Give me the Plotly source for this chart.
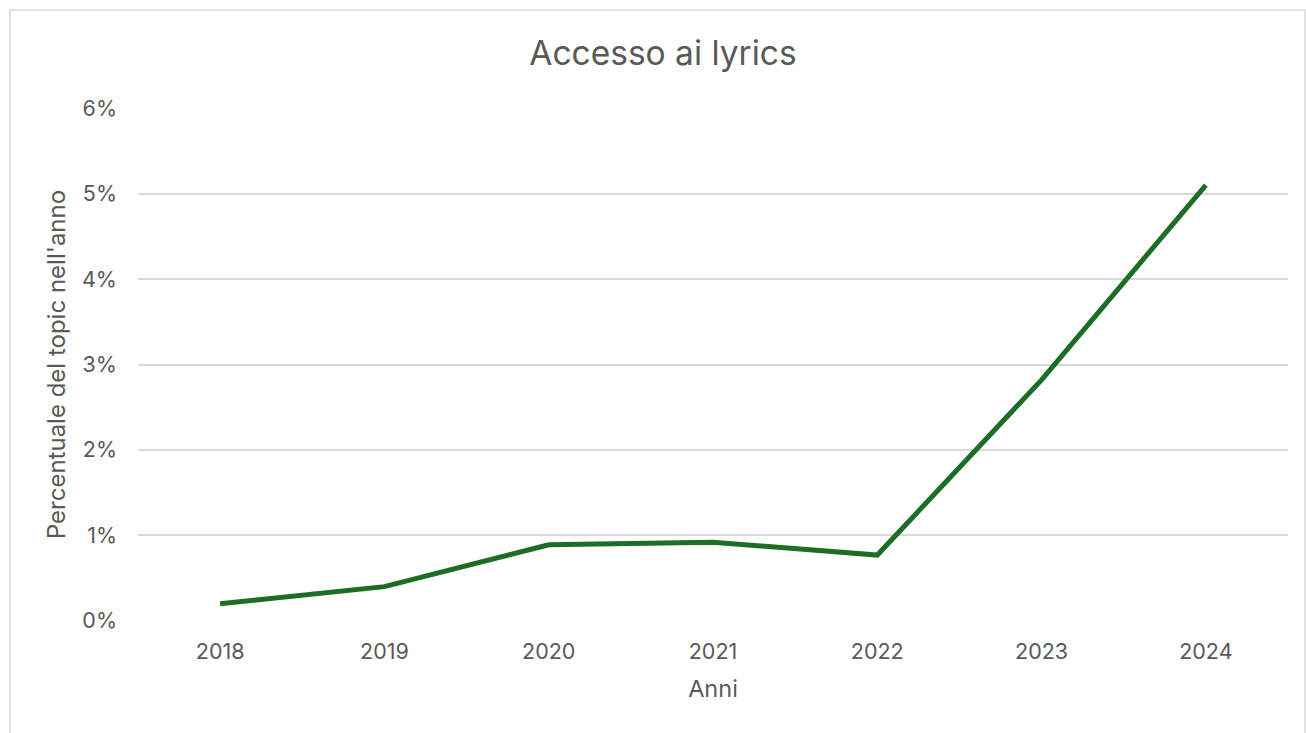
import plotly.graph_objects as go

# Anni e quota del topic "Accesso ai lyrics" (frazione dell'anno)
anni = ["2018", "2019", "2020", "2021", "2022", "2023", "2024"]
percentuale = [0.0020, 0.0040, 0.0089, 0.0092, 0.0077, 0.0282, 0.0510]

tick_vals = [0, 0.01, 0.02, 0.03, 0.04, 0.05, 0.06]

GRAY_TEXT = "#595959"
GRID = "#d9d9d9"
FONT = "Inter, Liberation Sans, Arial, sans-serif"

fig = go.Figure()
fig.add_trace(go.Scatter(
    x=anni,
    y=percentuale,
    mode="lines",
    line=dict(color="#1b6e24", width=5),
    hoverinfo="x+y",
))

W, H = 1306, 733
L, R, T, B = 138, 18, 108, 112
pw, ph = W - L - R, H - T - B

def px_x(x):
    return (x - L) / pw

def px_y(y):
    return (H - B - y) / ph

# Chart frame
fig.add_shape(
    type="rect", xref="paper", yref="paper",
    x0=px_x(10), x1=px_x(1305), y0=px_y(745), y1=px_y(10),
    line=dict(color=GRID, width=1.5), fillcolor="rgba(0,0,0,0)", layer="below",
)

fig.update_layout(
    width=W, height=H,
    margin=dict(l=L, r=R, t=T, b=B, autoexpand=False),
    paper_bgcolor="white",
    plot_bgcolor="white",
    showlegend=False,
    font=dict(family=FONT, color=GRAY_TEXT, size=21),
    title=dict(
        text="Accesso ai lyrics",
        x=663 / W,
        xanchor="center",
        y=1 - 53 / H,
        yanchor="middle",
        font=dict(family=FONT, size=33.5, color=GRAY_TEXT),
    ),
    xaxis=dict(
        type="category",
        range=[-0.5, len(anni) - 0.5],
        showgrid=False,
        showline=False,
        zeroline=False,
        ticks="",
        ticklabelstandoff=15,
        tickfont=dict(size=21.5, color=GRAY_TEXT),
        title=dict(text="Anni", font=dict(size=23.5, color=GRAY_TEXT), standoff=18),
    ),
    yaxis=dict(
        range=[-0.00002, 0.06002],
        tickvals=tick_vals,
        tickformat=".0%",
        showgrid=True,
        gridcolor=GRID,
        gridwidth=1.5,
        zeroline=False,
        showline=False,
        ticks="",
        ticklen=0,
        ticklabelstandoff=20,
        tickfont=dict(size=21.5, color=GRAY_TEXT),
        title=dict(text="Percentuale del topic nell'anno", font=dict(size=24, color=GRAY_TEXT), standoff=9),
    ),
)

fig.write_html("out.html")
